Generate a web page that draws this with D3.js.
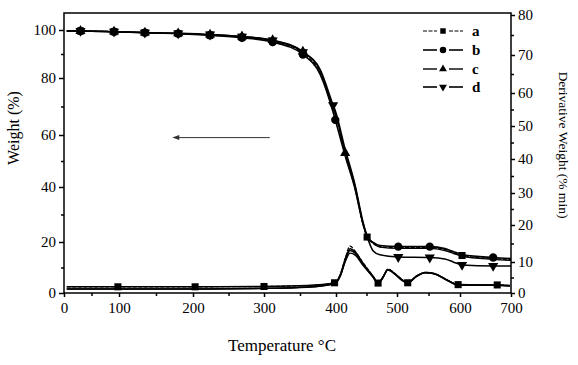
<!DOCTYPE html>
<html><head><meta charset="utf-8">
<script src="https://cdn.jsdelivr.net/npm/d3@7"></script>
<style>
body{margin:0;background:#fff}
text{font-family:"Liberation Serif","Times New Roman",serif;fill:#000}
</style>
</head><body>
<svg id="c" width="578" height="365"></svg>
<script>
// ---------------- data ----------------
const xTicks = [0,100,200,300,400,500,600,700];
const xMinor = [50,150,250,350,450,550];
const yLeftTicks = [0,20,40,60,80,100];
const yLeftMinor = [10,30,50,70,90];
const yRightTicks = [0,10,20,30,40,50,60,70,80];
const yRightMinor = [5,15,25,35,45,55,65,75];
const seriesNames = ["a","b","c","d"];

// TGA (weight %, left axis)
const tgaTemp = [5,30,91,135,180,224,269,312,354,378,396,399,415,431,444,451,461,472,502,552,576,589,604,665,700];
const tgaA = [99.6,99.6,99.3,98.9,98.5,97.9,97.0,95.4,90.4,82.1,69.0,67.0,52.5,39.5,26.5,21.8,19.4,18.2,17.8,17.8,17.0,15.9,14.7,13.5,13.1];
const tgaB = [99.6,99.6,99.3,98.9,98.5,97.8,96.8,95.0,89.8,81.5,68.0,65.3,52.0,39.5,26.8,22.0,19.8,18.6,18.2,18.2,17.4,16.3,15.1,13.9,13.5];
const tgaC = [99.6,99.6,99.3,98.9,98.6,98.1,97.3,95.8,91.0,83.0,69.5,67.5,53.1,40.5,27.0,22.2,19.6,18.0,17.5,17.5,16.6,15.6,14.4,13.2,12.8];
const tgaD = [99.6,99.6,99.3,98.9,98.6,98.1,97.2,95.6,90.8,83.5,70.5,68.5,54.5,41.0,27.5,22.0,16.5,15.0,14.1,13.9,13.3,12.2,11.0,10.6,10.6];
// indices of tgaTemp carrying a marker
const tgaMarkA = [1,2,3,4,5,6,7,8,15,22];
const tgaMarkB = [1,2,3,4,5,6,7,8,11,18,19,23];
const tgaMarkC = [1,2,3,4,5,6,7,8,12];
const tgaMarkD = [1,2,3,4,5,6,7,8,10,18,19,22,23];

// DTG (derivative weight %/min, right axis)
const dtgTemp = [5,98,203,300,360,398,407,415,423,432,444,461,469,477,485,497,508,517,530,545,560,579,597,640,673,698];
const dtgA = [2.0,2.0,2.0,2.1,2.4,3.3,6.0,11.0,14.3,12.8,9.9,5.4,3.2,5.2,7.7,6.2,4.3,3.3,5.3,6.6,6.2,4.3,2.7,2.6,2.6,2.4];
const dtgB = [2.0,2.0,2.0,2.1,2.4,3.3,5.8,10.6,13.6,12.6,9.6,5.3,3.2,5.1,7.6,6.1,4.2,3.3,5.3,6.6,6.2,4.2,2.7,2.6,2.6,2.4];
const dtgC = [1.3,1.3,1.3,1.5,1.9,3.0,5.4,10.0,12.4,11.8,9.0,5.0,3.0,5.0,7.4,6.0,4.1,3.2,5.2,6.5,6.1,4.2,2.6,2.5,2.5,2.3];
const dtgD = [1.3,1.3,1.3,1.5,1.9,3.1,5.6,10.4,13.1,12.3,9.3,5.2,3.1,5.1,7.5,6.1,4.2,3.2,5.3,6.6,6.2,4.2,2.6,2.5,2.5,2.3];
const dtgMarkA = [1,2,3,5,12,17,22,24];

// annotation arrow (temperature, weight)
const arrowFrom = [308,59];
const arrowTo = [172,59];

// ---------------- drawing ----------------
const svg = d3.select("#c");
const L = 64, R = 511, T = 13, B = 293;

const x = d3.scaleLinear().domain(xTicks).range([64,119,193,264,336,397,460,511]);
const yL = d3.scaleLinear().domain(yLeftTicks).range([293,242,187,135,78,30]);
const yR = d3.scaleLinear().domain(yRightTicks).range([293,262,225,193,159,126,93,55,15]);

// frame
svg.append("rect").attr("x",L).attr("y",T).attr("width",R-L).attr("height",B-T)
  .attr("fill","none").attr("stroke","#000").attr("stroke-width",1.5);

function styleAxis(g){
  g.select(".domain").remove();
  g.selectAll("line").attr("stroke","#000").attr("stroke-width",1.5);
  g.selectAll("text").style("font-size","15px").style("font-family","'Liberation Serif',serif");
}
// bottom
svg.append("g").attr("transform",`translate(0,${B})`)
  .call(d3.axisBottom(x).tickValues(xTicks).tickSize(4).tickPadding(5.5).tickFormat(d3.format("d"))).call(styleAxis);
svg.append("g").attr("transform",`translate(0,${B})`)
  .call(d3.axisBottom(x).tickValues(xMinor).tickSize(3).tickFormat("")).call(styleAxis);
// left
svg.append("g").attr("transform",`translate(${L},0)`)
  .call(d3.axisLeft(yL).tickValues(yLeftTicks).tickSize(5).tickPadding(3)).call(styleAxis);
svg.append("g").attr("transform",`translate(${L},0)`)
  .call(d3.axisLeft(yL).tickValues(yLeftMinor).tickSize(3).tickFormat("")).call(styleAxis);
// right
svg.append("g").attr("transform",`translate(${R},0)`)
  .call(d3.axisRight(yR).tickValues(yRightTicks).tickSize(4).tickPadding(3)).call(styleAxis);
svg.append("g").attr("transform",`translate(${R},0)`)
  .call(d3.axisRight(yR).tickValues(yRightMinor).tickSize(3).tickFormat("")).call(styleAxis);

// axis titles
svg.append("text").attr("transform","translate(19,128) rotate(-90)")
  .attr("text-anchor","middle").style("font-size","16px").text("Weight (%)");
svg.append("text").attr("transform","translate(559,145) rotate(90)")
  .attr("text-anchor","middle").style("font-size","13.5px").text("Derivative Weight (% min)");
svg.append("text").attr("x",282).attr("y",351)
  .attr("text-anchor","middle").style("font-size","17px").text("Temperature \u00B0C");

// series styles
const styles = {
  a:{w:1.2,dash:"4,1.5"},
  b:{w:1.6,dash:null},
  c:{w:1.4,dash:null},
  d:{w:1.6,dash:null}
};
const shapes = {a:d3.symbolSquare,b:d3.symbolCircle,c:d3.symbolTriangle,d:d3.symbolTriangle};
const sizes = {a:50,b:55,c:45,d:45};

const tgaSeries = [
  {name:"a",vals:tgaA,marks:tgaMarkA},
  {name:"b",vals:tgaB,marks:tgaMarkB},
  {name:"c",vals:tgaC,marks:tgaMarkC},
  {name:"d",vals:tgaD,marks:tgaMarkD}
];
const dtgSeries = [
  {name:"a",vals:dtgA,marks:dtgMarkA},
  {name:"b",vals:dtgB,marks:[]},
  {name:"c",vals:dtgC,marks:[]},
  {name:"d",vals:dtgD,marks:[]}
];

function drawMarker(g,name,cx,cy,scale){
  const rot = name==="d" ? 180 : 0;
  g.append("path").attr("d",d3.symbol().type(shapes[name]).size(sizes[name]*(scale||1))())
   .attr("transform",`translate(${cx},${cy}) rotate(${rot})`).attr("fill","#000");
}

const lineT = d3.line().curve(d3.curveMonotoneX);
function drawSeries(list,temps,ys){
  list.forEach(s=>{
    const pts = temps.map((t,i)=>[x(t),ys(s.vals[i])]);
    svg.append("path").attr("d",lineT(pts)).attr("fill","none")
      .attr("stroke","#000").attr("stroke-width",styles[s.name].w)
      .attr("stroke-dasharray",styles[s.name].dash);
  });
  list.forEach(s=>{
    const g = svg.append("g");
    s.marks.forEach(i=>drawMarker(g,s.name,x(temps[i]),ys(s.vals[i])));
  });
}
drawSeries(tgaSeries,tgaTemp,yL);
drawSeries(dtgSeries,dtgTemp,yR);

// arrow
svg.append("line").attr("x1",x(arrowFrom[0])).attr("y1",yL(arrowFrom[1]))
  .attr("x2",x(arrowTo[0])+5).attr("y2",yL(arrowTo[1]))
  .attr("stroke","#333").attr("stroke-width",1);
{
  const ax = x(arrowTo[0]), ay = yL(arrowTo[1]);
  svg.append("path").attr("d",`M${ax},${ay} L${ax+7},${ay-2.5} L${ax+7},${ay+2.5} Z`).attr("fill","#333");
}

// legend
const legY = [31,50,69,87];
seriesNames.forEach((n,i)=>{
  const g = svg.append("g");
  const st = styles[n];
  g.append("line").attr("x1",423).attr("x2",437).attr("y1",legY[i]).attr("y2",legY[i])
    .attr("stroke","#000").attr("stroke-width",st.w).attr("stroke-dasharray",st.dash);
  g.append("line").attr("x1",449).attr("x2",463).attr("y1",legY[i]).attr("y2",legY[i])
    .attr("stroke","#000").attr("stroke-width",st.w).attr("stroke-dasharray",st.dash);
  drawMarker(g,n,443,legY[i],0.6);
  g.append("text").attr("x",472).attr("y",legY[i]+4.5).style("font-size","15px")
    .style("font-weight","bold").text(n);
});
</script>
</body></html>
